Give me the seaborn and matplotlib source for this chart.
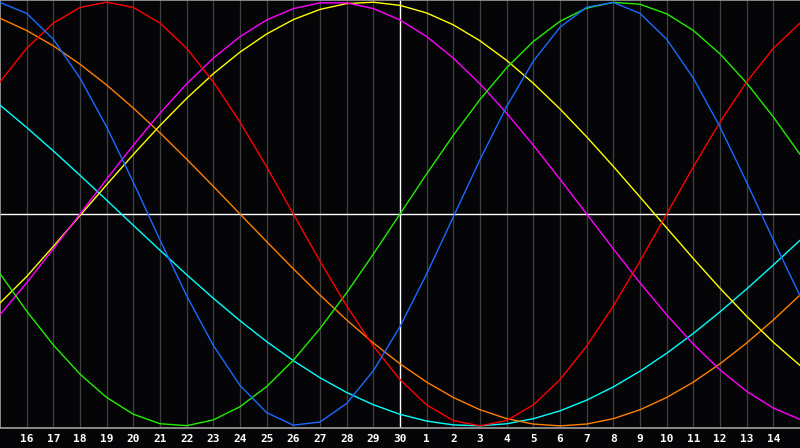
import matplotlib
matplotlib.use("Agg")
import matplotlib.pyplot as plt
import seaborn as sns
import pandas as pd

# day index 0..30 (grid lines at 1..29)
day_labels = [str(d) for d in range(16, 31)] + [str(d) for d in range(1, 15)]

blue = [0.9985, 0.9468, 0.8248, 0.6414, 0.4109, 0.1497, -0.1226, -0.3859, -0.6205, -0.8090,
        -0.9376, -0.9966, -0.9818, -0.8941, -0.7400, -0.5313, -0.2829, -0.0136, 0.2566, 0.5077,
        0.7215, 0.8815, 0.9762, 0.9985, 0.9468, 0.8248, 0.6414, 0.4109, 0.1497, -0.1226, -0.3859]
red = [0.6235, 0.7818, 0.9010, 0.9749, 1.0, 0.9749, 0.9010, 0.7818, 0.6235, 0.4339,
       0.2225, 0.0, -0.2225, -0.4339, -0.6235, -0.7818, -0.9010, -0.9749, -1.0, -0.9749,
       -0.9010, -0.7818, -0.6235, -0.4339, -0.2225, 0.0, 0.2225, 0.4339, 0.6235, 0.7818, 0.9010]
green = [-0.2817, -0.4582, -0.6182, -0.7557, -0.8660, -0.9450, -0.9898, -0.9989, -0.9718, -0.9096,
         -0.8146, -0.6901, -0.5406, -0.3717, -0.1893, 0.0, 0.1893, 0.3717, 0.5406, 0.6901,
         0.8146, 0.9096, 0.9718, 0.9989, 0.9898, 0.9450, 0.8660, 0.7557, 0.6182, 0.4582, 0.2817]
magenta = [-0.4759, -0.3247, -0.1646, 0.0, 0.1646, 0.3247, 0.4759, 0.6142, 0.7357, 0.8372,
           0.9158, 0.9694, 0.9966, 0.9966, 0.9694, 0.9158, 0.8372, 0.7357, 0.6142, 0.4759,
           0.3247, 0.1646, 0.0, -0.1646, -0.3247, -0.4759, -0.6142, -0.7357, -0.8372, -0.9158, -0.9694]
yellow = [-0.4200, -0.2951, -0.1528, -0.0073, 0.1383, 0.2811, 0.4178, 0.5458, 0.6620, 0.7640,
          0.8498, 0.9175, 0.9656, 0.9932, 0.9996, 0.9847, 0.9488, 0.8927, 0.8175, 0.7251,
          0.6169, 0.4958, 0.3641, 0.2246, 0.0802, -0.0657, -0.2103, -0.3504, -0.4829, -0.6053, -0.7146]
orange = [0.9239, 0.8660, 0.7934, 0.7071, 0.6088, 0.5, 0.3827, 0.2588, 0.1305, 0.0,
          -0.1305, -0.2588, -0.3827, -0.5, -0.6088, -0.7071, -0.7934, -0.8660, -0.9239, -0.9659,
          -0.9914, -1.0, -0.9914, -0.9659, -0.9239, -0.8660, -0.7934, -0.7071, -0.6088, -0.5, -0.3827]
cyan = [0.5136, 0.4085, 0.2977, 0.1827, 0.0652, -0.0533, -0.1711, -0.2864, -0.3977, -0.5035,
        -0.6022, -0.6922, -0.7727, -0.8425, -0.9002, -0.9454, -0.9773, -0.9955, -0.9997, -0.9899,
        -0.9662, -0.9289, -0.8786, -0.8159, -0.7417, -0.6573, -0.5636, -0.4619, -0.3538, -0.2406, -0.1241]

series = {"cyan": cyan, "orange": orange, "yellow": yellow, "magenta": magenta,
          "green": green, "red": red, "blue": blue}
colors = {"cyan": "#00ffff", "orange": "#ff7f00", "yellow": "#ffff00", "magenta": "#ff00ff",
          "green": "#22ee00", "red": "#ff0000", "blue": "#1a6aff"}

rows = []
for name, vals in series.items():
    for i, v in enumerate(vals):
        rows.append({"day": i, "value": v, "curve": name})
df = pd.DataFrame(rows)

sns.set_style("dark")
bg = "#050508"
fig = plt.figure(figsize=(8, 4.48), dpi=100, facecolor=bg)
ax = fig.add_axes([0, 20 / 448, 1, 428 / 448])
ax.set_facecolor(bg)

for i in range(1, 30):
    if i == 15:
        continue
    ax.axvline(i, color="#404040", lw=0.9, zorder=1)
ax.axvline(15, color="white", lw=1.0, zorder=2)
ax.axhline(0, color="white", lw=1.0, zorder=2)

sns.lineplot(data=df, x="day", y="value", hue="curve", palette=colors,
             legend=False, lw=1.0, ax=ax, zorder=3)

ax.set_xlim(0, 30)
ax.set_ylim(-1.01, 1.01)
ax.set_xticks(range(1, 30))
ax.set_xticklabels(day_labels, color="white", fontsize=8, fontweight="bold",
                   family="DejaVu Sans Mono")
ax.tick_params(axis="x", length=0, pad=4)
ax.set_yticks([])
ax.set_xlabel("")
ax.set_ylabel("")
ax.grid(False)
for s in ["left", "top", "bottom"]:
    ax.spines[s].set_visible(True)
    ax.spines[s].set_color("#a0a0a0")
    ax.spines[s].set_linewidth(1.2)
ax.spines["right"].set_visible(False)

fig.savefig("out.png", dpi=100, facecolor=bg)
